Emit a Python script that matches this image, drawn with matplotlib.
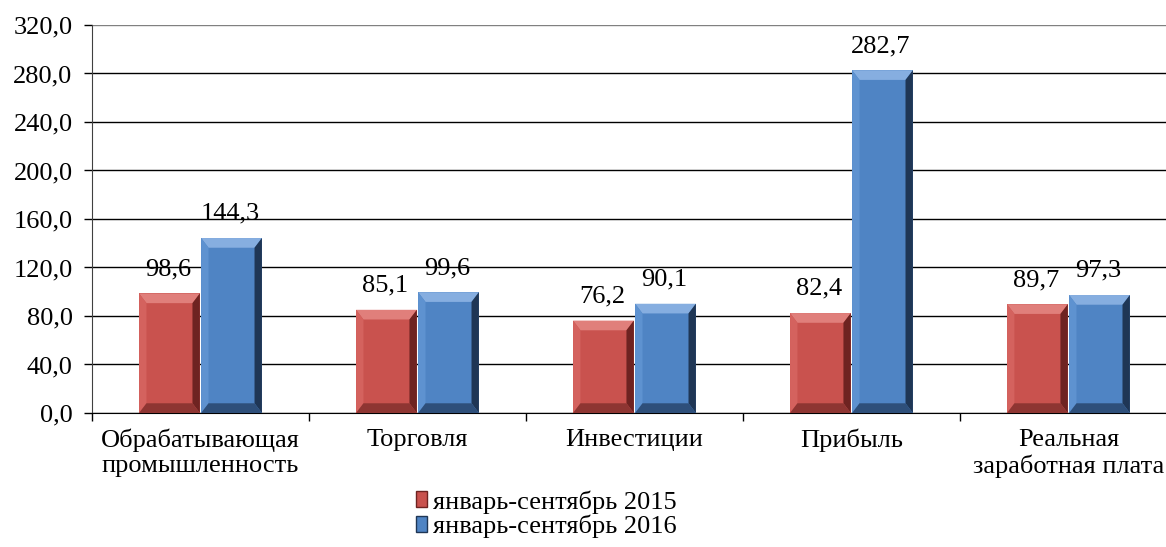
"""
Grouped bar chart: indices for Jan-Sep 2015 vs Jan-Sep 2016.
"""

import numpy as np
import matplotlib
matplotlib.use("Agg")
import matplotlib.pyplot as plt
from matplotlib.patches import Polygon, Patch

plt.rcParams['font.family'] = ['Liberation Serif', 'DejaVu Serif']

categories = ['Обрабатывающая\nпромышленность', 'Торговля', 'Инвестиции',
              'Прибыль', 'Реальная\nзаработная плата']
values_2015 = [98.6, 85.1, 76.2, 82.4, 89.7]
values_2016 = [144.3, 99.6, 90.1, 282.7, 97.3]
series_names = ['январь-сентябрь 2015', 'январь-сентябрь 2016']
yticks = [0, 40, 80, 120, 160, 200, 240, 280, 320]

# base, light top, light left, dark right, dark bottom
red_shades = ['#C9524E', '#E07F7B', '#D4625E', '#6E2321', '#8E3532']
blue_shades = ['#4F84C4', '#86AEE0', '#5E92D0', '#1F3655', '#2E4F7A']

FS = 19


def fmt(v):
    return ('%.1f' % v).replace('.', ',')


def bevel_bar(ax, x0, w, h, shades, dx=0.034, dy=8.0):
    '''Draws a bar with a bevelled look made of five polygons.'''
    x1 = x0 + w
    base, top, left, right, bottom = shades
    ax.add_patch(Polygon([(x0, 0), (x1, 0), (x1, h), (x0, h)],
                         closed=True, facecolor=base, edgecolor='none', zorder=3))
    ax.add_patch(Polygon([(x0, h), (x1, h), (x1 - dx, h - dy), (x0 + dx, h - dy)],
                         closed=True, facecolor=top, edgecolor='none', zorder=4))
    ax.add_patch(Polygon([(x0, 0), (x0 + dx, dy), (x0 + dx, h - dy), (x0, h)],
                         closed=True, facecolor=left, edgecolor='none', zorder=4))
    ax.add_patch(Polygon([(x1, 0), (x1 - dx, dy), (x1 - dx, h - dy), (x1, h)],
                         closed=True, facecolor=right, edgecolor='none', zorder=4))
    ax.add_patch(Polygon([(x0, 0), (x1, 0), (x1 - dx, dy), (x0 + dx, dy)],
                         closed=True, facecolor=bottom, edgecolor='none', zorder=4))


fig = plt.figure(figsize=(11.66, 5.47), dpi=100)
# the plot area runs past the right edge of the picture, as in the original
ax = fig.add_axes([0.0789, 0.245, 0.9305, 0.7093])

x = np.arange(len(categories))
width = 0.28
offset = 0.143

for i in range(len(categories)):
    for val, sh, off in ((values_2015[i], red_shades, -offset),
                         (values_2016[i], blue_shades, offset)):
        xc = x[i] + off
        bevel_bar(ax, xc - width / 2, width, val, sh)
        ax.annotate(fmt(val), xy=(xc, val), xytext=(-1, 9.5),
                    textcoords='offset points', ha='center', va='bottom',
                    fontsize=FS, zorder=5)

ax.set_xlim(-0.5, len(categories) - 0.5)
ax.set_ylim(0, 320)
ax.set_yticks(yticks)
ax.set_yticklabels([fmt(t) for t in yticks], fontsize=FS)
ax.yaxis.grid(True, color='black', linewidth=1.0, zorder=0)
ax.get_ygridlines()[-1].set_color('#808080')
ax.set_axisbelow(True)
ax.tick_params(axis='y', direction='out', length=6, width=1, pad=8)

# category ticks on group borders, labels at group centers
ax.set_xticks(np.arange(len(categories) + 1) - 0.5)
ax.set_xticklabels([''] * (len(categories) + 1))
ax.tick_params(axis='x', direction='out', length=6, width=1)
for i, cat in enumerate(categories):
    ax.text(x[i], -0.04, cat, transform=ax.get_xaxis_transform(),
            ha='center', va='top', fontsize=FS, linespacing=1.2)

for side in ('top', 'right'):
    ax.spines[side].set_visible(False)
ax.spines['left'].set_color('#404040')
ax.spines['bottom'].set_color('black')

handles = [Patch(facecolor=red_shades[0], edgecolor=red_shades[3]),
           Patch(facecolor=blue_shades[0], edgecolor=blue_shades[3])]
fig.legend(handles, series_names, loc='upper left',
           bbox_to_anchor=(0.357, 0.104), frameon=False, fontsize=FS,
           handlelength=0.42, handleheight=0.55, handletextpad=0.2,
           labelspacing=0.05, borderaxespad=0, borderpad=0)

fig.savefig('out.png', dpi=100)
